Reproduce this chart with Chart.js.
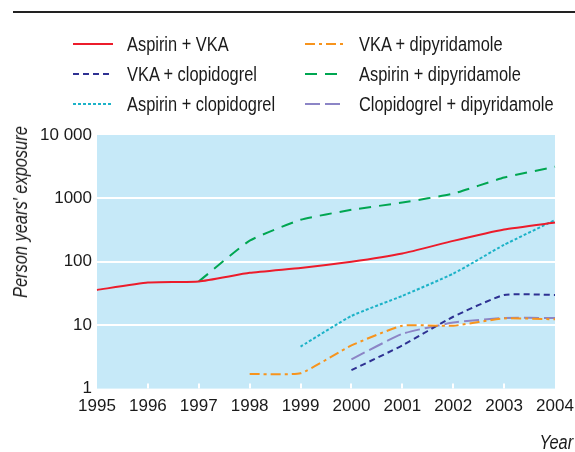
<!DOCTYPE html>
<html>
<head>
<meta charset="utf-8">
<script src="https://cdn.jsdelivr.net/npm/chart.js@4.4.1/dist/chart.umd.min.js"></script>
<style>
  body { margin: 0; background: #fff; }
  #wrap { position: relative; width: 575px; height: 452px; font-family: "Liberation Sans", Arial, sans-serif; color: #1a1a1a; }
  #rule { position: absolute; left: 13px; right: 0; top: 11px; height: 2px; background: #222; }
  #legend { position: absolute; left: 0; top: 0; }
  .item { position: absolute; height: 24px; display: flex; align-items: center; white-space: nowrap; }
  .item svg { margin-right: 14px; }
  .narrow { display: inline-block; font-size: 20px; transform: scaleX(0.82); transform-origin: left center; }
  #yearLabel { position: absolute; right: 2px; top: 431px; font-size: 20px; font-style: italic; transform: scaleX(0.82); transform-origin: right center; }
  #yTitle { position: absolute; left: 20px; top: 212px; width: 0; height: 0; }
  #yTitle span { position: absolute; left: 0; top: 0; white-space: nowrap; font-size: 20px; font-style: italic; line-height: 20px;
    transform: translate(-50%, -50%) rotate(-90deg) scaleX(0.82); }
  #chartBox { position: absolute; left: 0; top: 0; width: 575px; height: 452px; }
</style>
</head>
<body>
<div id="wrap">
  <div id="rule"></div>
  <div id="chartBox"><canvas id="exposureChart"></canvas></div>
  <div id="legend"></div>
  <div id="yTitle"><span>Person years' exposure</span></div>
  <div id="yearLabel">Year</div>
</div>
<script>
// Person years' exposure by year, log scale
const years = ['1995', '1996', '1997', '1998', '1999', '2000', '2001', '2002', '2003', '2004'];

const aspirinVka = [36, 47, 49, 67, 80, 100, 135, 214, 323, 415];
const vkaDipyridamole = [null, null, null, 1.7, 1.75, 4.8, 9.8, 9.8, 12.8, 12.4];
const vkaClopidogrel = [null, null, null, null, null, 1.95, 4.8, 13.6, 30, 30];
const aspirinDipyridamole = [null, null, 49, 215, 460, 660, 860, 1190, 2130, 3160];
const aspirinClopidogrel = [null, null, null, null, 4.6, 14, 29, 65, 185, 455];
const clopidogrelDipyridamole = [null, null, null, null, null, 2.9, 7.3, 11, 13, 13];

const yTicks = [1, 10, 100, 1000, 10000];
const yTickLabels = ['1', '10', '100', '1000', '10 000'];

const FONT = '"Liberation Sans", Arial, sans-serif';

const datasets = [
  { label: 'Aspirin + VKA', data: aspirinVka, borderColor: '#ec1c2b', borderDash: [] },
  { label: 'VKA + dipyridamole', data: vkaDipyridamole, borderColor: '#f7941d', borderDash: [10, 4, 3, 4] },
  { label: 'VKA + clopidogrel', data: vkaClopidogrel, borderColor: '#2e3192', borderDash: [6, 4] },
  { label: 'Aspirin + dipyridamole', data: aspirinDipyridamole, borderColor: '#00a651', borderDash: [12, 8] },
  { label: 'Aspirin + clopidogrel', data: aspirinClopidogrel, borderColor: '#1cb2c7', borderDash: [3, 2] },
  { label: 'Clopidogrel + dipyridamole', data: clopidogrelDipyridamole, borderColor: '#8c85c6', borderDash: [15, 5] }
].map(d => Object.assign(d, {
  borderWidth: 2,
  pointRadius: 0,
  tension: 0.15,
  fill: false
}));

// light blue plot background
const plotBackground = {
  id: 'plotBackground',
  beforeDraw(chart) {
    const { ctx, chartArea } = chart;
    ctx.save();
    ctx.fillStyle = '#c6e9f8';
    ctx.fillRect(chartArea.left, chartArea.top, chartArea.right - chartArea.left, chartArea.bottom - chartArea.top);
    ctx.restore();
  }
};

// small white year ticks inside the bottom of the plot
const innerTicks = {
  id: 'innerTicks',
  afterDatasetsDraw(chart) {
    const { ctx, chartArea } = chart;
    const xScale = chart.scales.x;
    ctx.save();
    ctx.strokeStyle = '#ffffff';
    ctx.lineWidth = 2;
    for (let i = 1; i < years.length - 1; i++) {
      const x = Math.round(xScale.getPixelForValue(i));
      ctx.beginPath();
      ctx.moveTo(x, chartArea.bottom);
      ctx.lineTo(x, chartArea.bottom - 5);
      ctx.stroke();
    }
    ctx.restore();
  }
};

const chart = new Chart(document.getElementById('exposureChart').getContext('2d'), {
  type: 'line',
  data: { labels: years, datasets: datasets },
  options: {
    responsive: true,
    maintainAspectRatio: false,
    animation: false,
    layout: { padding: { top: 135, right: 0, bottom: 27, left: 35 } },
    plugins: {
      legend: { display: false },
      tooltip: { enabled: false }
    },
    scales: {
      x: {
        type: 'category',
        offset: false,
        grid: { display: false, drawTicks: false },
        border: { display: false },
        ticks: { color: '#1a1a1a', font: { family: FONT, size: 17 }, padding: 8, maxRotation: 0, autoSkip: false },
        afterFit: scale => { scale.paddingRight = 20; }
      },
      y: {
        type: 'logarithmic',
        min: 1,
        max: 10000,
        afterBuildTicks: scale => { scale.ticks = yTicks.map(v => ({ value: v })); },
        grid: {
          drawTicks: false,
          lineWidth: 2,
          color: ctx => (ctx.tick && ctx.tick.value > 1 && ctx.tick.value < 10000) ? '#ffffff' : 'rgba(0,0,0,0)'
        },
        border: { display: false },
        ticks: {
          color: '#1a1a1a',
          font: { family: FONT, size: 17 },
          padding: 5,
          callback: (value) => {
            const idx = yTicks.indexOf(value);
            return idx >= 0 ? yTickLabels[idx] : '';
          }
        }
      }
    }
  },
  plugins: [plotBackground, innerTicks]
});

// two column legend, same order as the reference
const legendColumns = [[0, 2, 4], [1, 3, 5]];
const legendX = [73, 305];
const legendY = [32, 62, 92];
const legendBox = document.getElementById('legend');
legendColumns.forEach((col, c) => {
  col.forEach((dsIndex, r) => {
    const ds = chart.data.datasets[dsIndex];
    const item = document.createElement('div');
    item.className = 'item';
    item.style.left = legendX[c] + 'px';
    item.style.top = legendY[r] + 'px';
    const dash = ds.borderDash.length ? ds.borderDash.join(' ') : 'none';
    item.innerHTML = '<svg width="40" height="6"><line x1="0" y1="3" x2="40" y2="3" stroke="' + ds.borderColor +
      '" stroke-width="2" stroke-dasharray="' + dash + '"/></svg><span class="narrow">' + ds.label + '</span>';
    legendBox.appendChild(item);
  });
});
</script>
</body>
</html>
